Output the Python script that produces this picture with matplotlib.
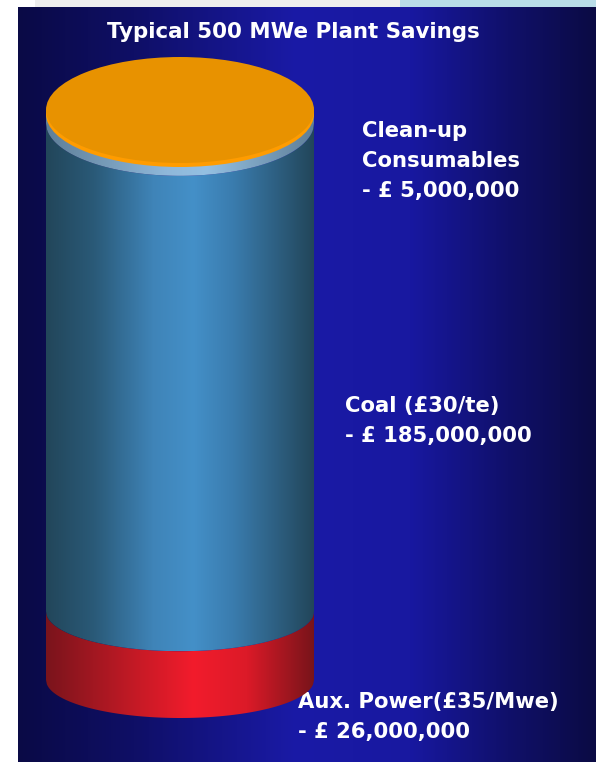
import numpy as np
import matplotlib.pyplot as plt
from matplotlib.colors import LinearSegmentedColormap
from matplotlib.patches import Ellipse, Polygon, Rectangle

# savings per item, bottom of the stack first
items = ['Aux. Power(£35/Mwe)', 'Coal (£30/te)', 'Clean-up\nConsumables']
savings = [26_000_000, 185_000_000, 5_000_000]
title = 'Typical 500 MWe Plant Savings'

# side shading for each stacked segment, edge -> highlight -> edge
side_colours = [
    [(0, '#7a141c'), (0.35, '#c81a26'), (0.55, '#f21c2c'), (0.75, '#dc1a28'), (1, '#78141a')],
    [(0, '#22465a'), (0.18, '#2a5a78'), (0.4, '#3f84b8'), (0.55, '#4490c8'), (0.7, '#3a7cae'), (0.88, '#2c5c7c'), (1, '#22465a')],
    [(0, '#5f7f98'), (0.45, '#8fb8da'), (0.6, '#94c0e2'), (1, '#5f7f98')],
]
cap_colour, rim_colour = '#e89200', '#ff9c00'

W, H = 596, 762
fig = plt.figure(figsize=(W / 100, H / 100), dpi=100, facecolor='white')

# backdrop and text live in pixel coordinates
ax_px = fig.add_axes([0, 0, 1, 1])
ax_px.axis('off')

ax_px.add_patch(Rectangle((35, 0), 365, 7, color='#eeeeee', lw=0))
ax_px.add_patch(Rectangle((400, 0), 196, 7, color='#b9dde8', lw=0))

bg = LinearSegmentedColormap.from_list('bg', [(0, '#0a0a46'), (0.2, '#0f0f66'), (0.48, '#1a1aa6'),
                                              (0.68, '#1818a0'), (0.85, '#10106a'), (1, '#0b0b44')])
ax_px.imshow(np.linspace(0, 1, 256)[None, :], cmap=bg, extent=[18, W, H, 7], aspect='auto')
ax_px.set_xlim(0, W)
ax_px.set_ylim(H, 0)

# cylinder axes: x in pixels, y in £ millions
ax = fig.add_axes([0, 0, 1, 1])
ax.axis('off')
values = np.array(savings) / 1e6
total = values.sum()
base_px, top_px = 680, 110
k = (base_px - top_px) / total  # pixels per £m
cx, a = 180, 134


def half_h(v):
    # ellipse half-height (in £m) at stack level v
    return (38 + 15 * v / total) / k


xs = np.linspace(cx - a, cx + a, 300)
s = np.sqrt(np.clip(1 - ((xs - cx) / a) ** 2, 0, 1))
grad = np.linspace(0, 1, 256)[None, :]

levels = np.r_[0, np.cumsum(values)]
for i, stops in enumerate(side_colours):
    v0, v1 = levels[i], levels[i + 1]
    top = v1 - half_h(v1) * s
    bot = v0 - half_h(v0) * s
    verts = np.r_[np.c_[xs, top], np.c_[xs[::-1], bot[::-1]]]
    poly = Polygon(verts, closed=True, fc='none', ec='none')
    ax.add_patch(poly)
    cmap = LinearSegmentedColormap.from_list('side%d' % i, stops)
    im = ax.imshow(grad, cmap=cmap, extent=[cx - a, cx + a, v0 - half_h(v0), v1],
                   aspect='auto', zorder=2)
    im.set_clip_path(poly)

# lid: bright rim showing just below the flat top
ax.add_patch(Ellipse((cx, total - 4 / k), 2 * a, 2 * half_h(total), fc=rim_colour, ec='none', zorder=3))
ax.add_patch(Ellipse((cx, total), 2 * a, 2 * half_h(total), fc=cap_colour, ec='none', zorder=4))

ax.set_xlim(0, W)
ax.set_ylim(-(H - base_px) / k, base_px / k)

# text
font = dict(family='DejaVu Sans', fontweight='bold', color='white')
ax_px.text(293, 38, title, ha='center', va='baseline', fontsize=15.4, **font)

label_pos = [(298, 708), (345, 412), (362, 137)]  # first-line baselines
line_gap = 30
for name, value, (x, y) in zip(items, savings, label_pos):
    lines = name.split('\n') + ['- £ {:,}'.format(value)]
    for j, line in enumerate(lines):
        ax_px.text(x, y + j * line_gap, line, ha='left', va='baseline', fontsize=15.2, **font)

fig.savefig('out.png', dpi=100, facecolor='white')
